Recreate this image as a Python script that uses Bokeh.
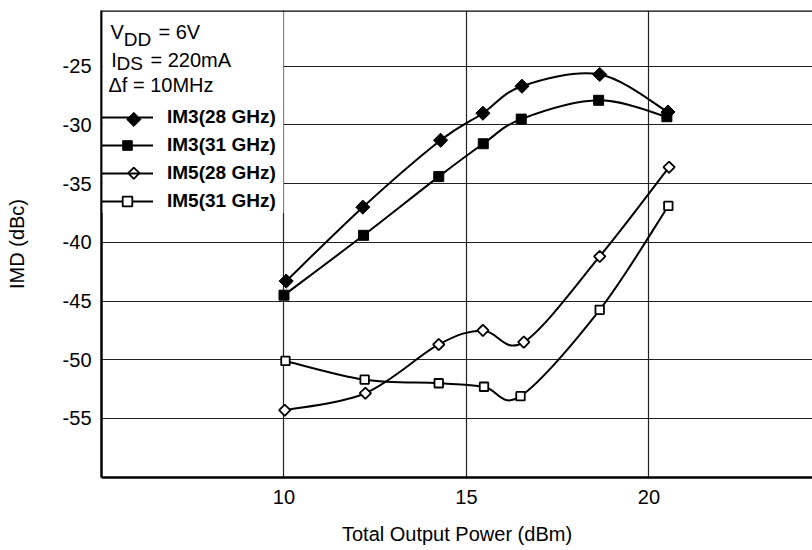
import numpy as np
from bokeh.plotting import figure
from bokeh.models import (Range1d, FixedTicker, Legend, LegendItem, Span,
                          BoxAnnotation, Label, ColumnDataSource)
from bokeh.embed import file_html
from bokeh.resources import INLINE

# ---- data ----
power_im3_28 = [10.06, 12.16, 14.29, 15.45, 16.52, 18.65, 20.52]
imd_im3_28 = [-43.3, -37.0, -31.3, -29.0, -26.7, -25.7, -28.9]
power_im3_31 = [10.0, 12.18, 14.24, 15.46, 16.5, 18.62, 20.49]
imd_im3_31 = [-44.5, -39.4, -34.4, -31.6, -29.5, -27.9, -29.3]
power_im5_28 = [10.02, 12.23, 14.24, 15.45, 16.57, 18.65, 20.55]
imd_im5_28 = [-54.3, -52.85, -48.7, -47.5, -48.5, -41.2, -33.6]
power_im5_31 = [10.04, 12.21, 14.24, 15.48, 16.48, 18.65, 20.53]
imd_im5_31 = [-50.1, -51.7, -52.0, -52.3, -53.1, -45.75, -36.9]
series_labels = ["IM3(28 GHz)", "IM3(31 GHz)", "IM5(28 GHz)", "IM5(31 GHz)"]
x_ticks = [10, 15, 20]
y_ticks = [-25, -30, -35, -40, -45, -50, -55]
y_tick_labels = ["-25", "-30", "-35", "-40", "-45", "-50", "-55"]

X_START, X_END = 5.0, 24.48
Y_START, Y_END = -60.03, -20.25
FONT = "Liberation Sans"


def bezier_source(xs, ys):
    """Catmull-Rom style control points so bezier glyphs pass through the data points."""
    P = np.column_stack([xs, ys]).astype(float)
    n = len(P)
    d = dict(x0=[], y0=[], x1=[], y1=[], cx0=[], cy0=[], cx1=[], cy1=[])
    for i in range(n - 1):
        p0 = P[i - 1] if i > 0 else P[i]
        p1 = P[i]
        p2 = P[i + 1]
        p3 = P[i + 2] if i + 2 < n else P[i + 1]
        c1 = p1 + (p2 - p0) / 6.0
        c2 = p2 - (p3 - p1) / 6.0
        d["x0"].append(p1[0]); d["y0"].append(p1[1])
        d["x1"].append(p2[0]); d["y1"].append(p2[1])
        d["cx0"].append(c1[0]); d["cy0"].append(c1[1])
        d["cx1"].append(c2[0]); d["cy1"].append(c2[1])
    return ColumnDataSource(d)


p = figure(width=812, height=550, output_backend="svg", toolbar_location=None,
           x_range=Range1d(X_START, X_END), y_range=Range1d(Y_START, Y_END),
           min_border_left=101, min_border_right=0, min_border_top=10,
           min_border_bottom=73)
p.outline_line_color = None
p.background_fill_color = "white"
p.border_fill_color = "white"

# axes
p.xaxis.ticker = FixedTicker(ticks=x_ticks)
p.yaxis.ticker = FixedTicker(ticks=y_ticks)
p.yaxis.major_label_overrides = dict(zip(y_ticks, y_tick_labels))
for ax in (p.xaxis[0], p.yaxis[0]):
    ax.axis_line_width = 2.5
    ax.axis_line_color = "black"
    ax.major_tick_line_color = None
    ax.minor_tick_line_color = None
    ax.major_tick_out = 0
    ax.major_tick_in = 0
    ax.major_label_text_font = FONT
    ax.major_label_text_font_size = "20px"
    ax.major_label_text_color = "black"
    ax.axis_label_text_font = FONT
    ax.axis_label_text_font_size = "20px"
    ax.axis_label_text_font_style = "normal"
    ax.axis_label_text_color = "black"
p.xaxis.major_label_standoff = 12
p.yaxis.major_label_standoff = 10
p.xaxis.axis_label = "Total Output Power (dBm)"
p.yaxis.axis_label = "IMD (dBc)"
p.xaxis.axis_label_standoff = 16
p.yaxis.axis_label_standoff = 32

p.grid.grid_line_color = "#222222"
p.grid.grid_line_width = 1.2

# white backdrop of the key (hides grid there)
p.add_layout(BoxAnnotation(left=X_START + 0.03, right=x_ticks[0] - 0.015,
                           top=Y_END - 0.05, bottom=-37.5,
                           fill_color="white", fill_alpha=1.0,
                           line_color=None, level="annotation"))
# top frame line
p.add_layout(Span(location=Y_END, dimension="width", line_color="black",
                  line_width=2.5))

series = [
    (power_im3_28, imd_im3_28, dict(size=10, angle=np.pi / 4, fill_color="black", line_width=1)),
    (power_im3_31, imd_im3_31, dict(size=10, angle=0, fill_color="black", line_width=1)),
    (power_im5_28, imd_im5_28, dict(size=8, angle=np.pi / 4, fill_color="white", line_width=1.8)),
    (power_im5_31, imd_im5_31, dict(size=8.5, angle=0, fill_color="white", line_width=1.8)),
]
items = []
for (xs, ys, mk), lab in zip(series, series_labels):
    b = p.bezier(x0="x0", y0="y0", x1="x1", y1="y1", cx0="cx0", cy0="cy0",
                 cx1="cx1", cy1="cy1", source=bezier_source(xs, ys),
                 line_color="black", line_width=2)
    s = p.scatter(xs, ys, marker="square", line_color="black", **mk)
    # diamonds are rotated squares; the legend cannot rotate them, so they
    # are added separately on top of the key below
    rends = [b] if mk["angle"] else [b, s]
    items.append(LegendItem(label=lab, renderers=rends))

legend = Legend(items=items, location=(0, 264), glyph_width=52, glyph_height=24,
                label_height=24, spacing=4, padding=6, label_standoff=14,
                label_text_font=FONT, label_text_font_style="bold",
                label_text_font_size="19px", label_text_color="black",
                border_line_color=None, background_fill_alpha=0, margin=0)
p.add_layout(legend)

# rotated-square markers of the key (rows 1 and 3)
key_x = [5.885, 5.885]
key_y = [-29.53, -34.11]
p.scatter(key_x[:1], key_y[:1], marker="square", angle=np.pi / 4, size=10,
          fill_color="black", line_color="black", line_width=1, level="overlay")
p.scatter(key_x[1:], key_y[1:], marker="square", angle=np.pi / 4, size=8,
          fill_color="white", line_color="black", line_width=1.8, level="overlay")

# header texts of the key
hdr = [
    (5.247, -22.064, "V", "20px"),
    (5.611, -22.695, "DD", "19px"),
    (6.562, -22.064, "= 6V", "20px"),
    (5.266, -24.441, "I", "20px"),
    (5.411, -24.747, "DS", "19px"),
    (6.342, -24.441, "= 220mA", "20px"),
    (5.192, -26.596, "\u0394f = 10MHz", "20px"),
]
for x, y, t, fs in hdr:
    p.add_layout(Label(x=x, y=y, text=t, text_font=FONT, text_font_size=fs,
                       text_color="black", text_baseline="middle"))

open("out.html", "w").write(file_html(p, INLINE))
